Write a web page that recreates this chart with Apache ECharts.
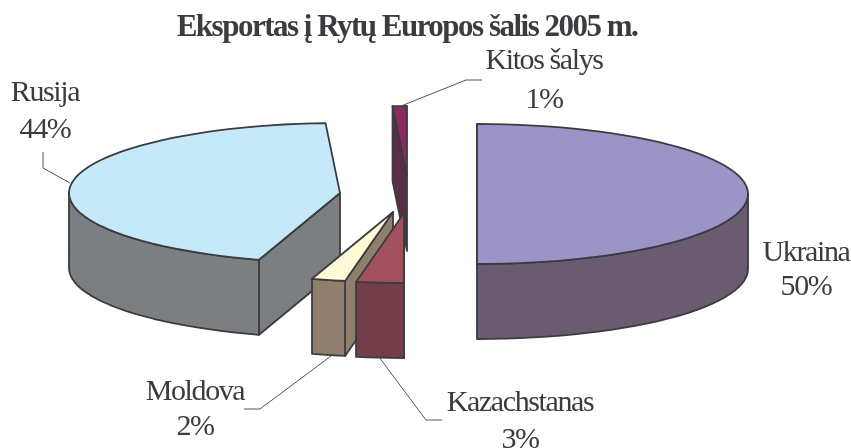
<!DOCTYPE html>
<html>
<head>
<meta charset="utf-8">
<style>html,body{margin:0;padding:0;background:#fff}#c{width:851px;height:448px}</style>
<script src="https://cdn.jsdelivr.net/npm/echarts@6/dist/echarts.min.js"></script>
</head>
<body>
<div id="c"></div>
<script>
// ---- data (clockwise from 12 o'clock) ----
const chartTitle = 'Eksportas į Rytų Europos šalis 2005 m.';
const categories = ['Ukraina', 'Kazachstanas', 'Moldova', 'Rusija', 'Kitos šalys'];
const shares = [50, 2.83, 2.0, 44.32, 0.85];

// ---- styling / layout ----
const TOP = ['#9c93c6', '#a24f5f', '#fffbd6', '#c6e9fa', '#8b2a5c'];
const SIDE = ['#6a5b70', '#723e49', '#8f7f6c', '#7c7f82', '#5c2e45'];
const EDGE = '#3b3b40';
const RX = 271, RY = 70, DEPTH = 75;
const centres = [[477, 194], [404, 213], [393, 212], [340, 193], [407, 176]];
const drawOrder = [4, 3, 0, 2, 1];
const labelPos = [[806, 253, 287], [520, 403, 440], [195, 392, 427], [45, 93, 130], [544, 61, 100]];
const leaders = [
  null,
  [[379, 357], [426, 420], [442, 420]],
  [[331, 356], [260, 409], [244, 409]],
  [[70, 183], [43, 168], [43, 152]],
  [[401, 106], [466, 80], [482, 80]]
];

// tight tracking of the original text
const origFill = CanvasRenderingContext2D.prototype.fillText;
CanvasRenderingContext2D.prototype.fillText = function (t, x, y, m) {
  this.letterSpacing = /bold/.test(this.font) ? '-1.5px' : '-1.4px';
  return m === undefined ? origFill.call(this, t, x, y) : origFill.call(this, t, x, y, m);
};

const starts = [];
shares.reduce((acc, v, i) => { starts[i] = acc; return acc + v; }, 0);
const total = shares.reduce((a, b) => a + b, 0);
const pt = (c, deg, dy) => {
  const r = deg * Math.PI / 180;
  return [c[0] + RX * Math.sin(r), c[1] - RY * Math.cos(r) + (dy || 0)];
};
const arc = (c, a, b, dy) => {
  const pts = [];
  const n = Math.max(2, Math.ceil((b - a) / 3));
  for (let k = 0; k <= n; k++) pts.push(pt(c, a + (b - a) * k / n, dy));
  return pts;
};
const poly = (points, fill, z) => ({
  type: 'polygon', z2: z, shape: { points },
  style: { fill, stroke: EDGE, lineWidth: 1.8, lineJoin: 'round' }
});
const txt = (text, x, y, font) => ({
  type: 'text', z2: 50,
  style: { text, x, y, font, fill: EDGE, align: 'center', verticalAlign: 'middle' }
});

function renderSlice(params, api) {
  const i = api.value(0);
  const share = api.value(1);
  const a = starts[i] / total * 360;
  const b = a + share / total * 360;
  const c = centres[i];
  const kids = [];
  // radial face at the slice's leading edge
  const s = pt(c, a);
  kids.push(poly([c, s, pt(c, a, DEPTH), [c[0], c[1] + DEPTH]], SIDE[i], 1));
  // outer wall on the front half of the ellipse
  const w0 = Math.max(a, 90), w1 = Math.min(b, 270);
  if (w1 > w0) {
    kids.push(poly(arc(c, w0, w1).concat(arc(c, w0, w1, DEPTH).reverse()), SIDE[i], 2));
  }
  // top face
  kids.push(poly([c].concat(arc(c, a, b)), TOP[i], 3));
  return { type: 'group', children: kids };
}
function renderLabels(params, api) {
  const i = api.value(0);
  const p = labelPos[i];
  const kids = [
    txt(categories[i], p[0], p[1], "30px 'Liberation Serif'"),
    txt(Math.round(api.value(1)) + '%', p[0], p[2], "30px 'Liberation Serif'")
  ];
  if (leaders[i]) kids.push({
    type: 'polyline', z2: 40, shape: { points: leaders[i] },
    style: { fill: null, stroke: '#55555a', lineWidth: 1 }
  });
  return { type: 'group', children: kids };
}

const chart = echarts.init(document.getElementById('c'), null, { renderer: 'canvas' });
chart.setOption({
  animation: false,
  backgroundColor: '#ffffff',
  title: {
    text: chartTitle, left: 407, top: 12, padding: 0,
    textAlign: 'center',
    textStyle: { fontFamily: 'Liberation Serif', fontWeight: 'bold', fontSize: 31, color: EDGE }
  },
  series: [
    { type: 'custom', coordinateSystem: 'none', silent: true, z: 2,
      data: drawOrder.map(i => [i, shares[i]]), renderItem: renderSlice },
    { type: 'custom', coordinateSystem: 'none', silent: true, z: 3,
      data: categories.map((n, i) => [i, shares[i]]), renderItem: renderLabels }
  ]
});
</script>
</body>
</html>
